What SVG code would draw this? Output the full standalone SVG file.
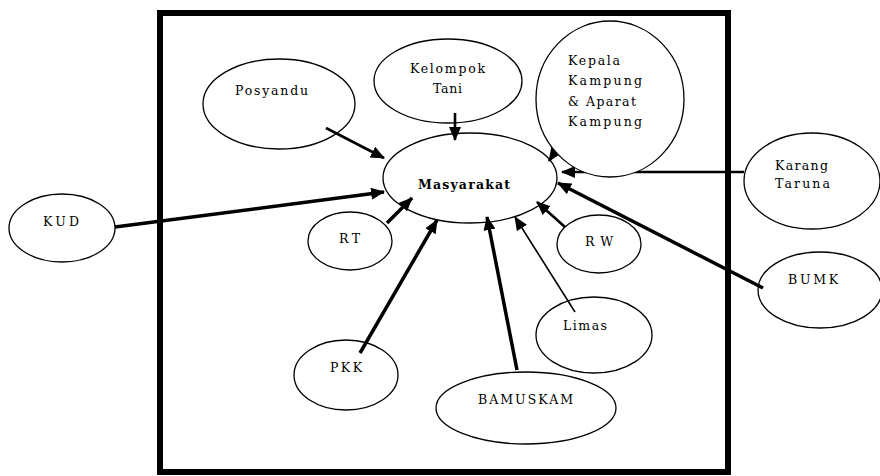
<svg xmlns="http://www.w3.org/2000/svg" width="880" height="476" viewBox="0 0 880 476">
<style>
.n{fill:none;stroke:#000;stroke-width:1.3}
.t{font-family:"DejaVu Serif","Liberation Serif",serif;font-size:12.5px;fill:#000}
.b{font-weight:bold}
.c{fill:none;stroke:#000;stroke-width:3.5}
.thin{stroke-width:1.6}
.mid{stroke-width:2.6}
</style>
<defs>
<marker id="ah" markerUnits="userSpaceOnUse" markerWidth="14" markerHeight="12" refX="13" refY="6" orient="auto">
<path d="M0,0 L14,6 L0,12 Z" fill="#000"/>
</marker>
</defs>
<rect x="160" y="13" width="568" height="459" fill="none" stroke="#000" stroke-width="6"/>
<g id="connectors">
<line class="c mid" x1="326" y1="128" x2="384" y2="158" marker-end="url(#ah)"/>
<line class="c mid" x1="455" y1="113" x2="455" y2="140" marker-end="url(#ah)"/>
<line class="c" x1="115" y1="227" x2="384" y2="192" marker-end="url(#ah)"/>
<line class="c" x1="387" y1="223" x2="412" y2="198" marker-end="url(#ah)"/>
<line class="c" x1="360" y1="353" x2="437" y2="220" marker-end="url(#ah)"/>
<line class="c" x1="517" y1="370" x2="487" y2="217" marker-end="url(#ah)"/>
<line class="c thin" x1="575" y1="312" x2="515" y2="217" marker-end="url(#ah)"/>
<line class="c mid" x1="565" y1="227" x2="537" y2="202" marker-end="url(#ah)"/>
<line class="c" x1="763" y1="288" x2="558" y2="183" marker-end="url(#ah)"/>
<line class="c mid" x1="744" y1="172" x2="562" y2="172" marker-end="url(#ah)"/>
<line class="c mid" x1="562" y1="142" x2="549" y2="161" marker-end="url(#ah)"/>
</g>
<g id="masyarakat">
<ellipse class="n" cx="470" cy="178" rx="87" ry="45"/>
<text class="t b" x="418" y="189" textLength="92" lengthAdjust="spacing">Masyarakat</text>
</g>
<g id="posyandu">
<ellipse class="n" cx="279" cy="104" rx="76" ry="45"/>
<text class="t" x="235" y="95" textLength="73" lengthAdjust="spacing">Posyandu</text>
</g>
<g id="kelompok-tani">
<ellipse class="n" cx="448" cy="81" rx="74" ry="42"/>
<text class="t" x="410" y="73" textLength="75" lengthAdjust="spacing">Kelompok</text>
<text class="t" x="433" y="93" textLength="29" lengthAdjust="spacing">Tani</text>
</g>
<g id="kepala-kampung">
<ellipse class="n" cx="610" cy="99" rx="74" ry="78" style="fill:#fff"/>
<text class="t" x="568" y="65" textLength="52" lengthAdjust="spacing">Kepala</text>
<text class="t" x="568" y="85" textLength="74" lengthAdjust="spacing">Kampung</text>
<text class="t" x="568" y="106" textLength="68" lengthAdjust="spacing">&amp; Aparat</text>
<text class="t" x="568" y="126" textLength="74" lengthAdjust="spacing">Kampung</text>
</g>
<g id="karang-taruna">
<ellipse class="n" cx="812" cy="181" rx="68" ry="48"/>
<text class="t" x="775" y="170" textLength="53" lengthAdjust="spacing">Karang</text>
<text class="t" x="775" y="188" textLength="55" lengthAdjust="spacing">Taruna</text>
</g>
<g id="kud">
<ellipse class="n" cx="62" cy="228" rx="53" ry="34"/>
<text class="t" x="43" y="226" textLength="36" lengthAdjust="spacing">KUD</text>
</g>
<g id="rt">
<ellipse class="n" cx="350" cy="241" rx="42" ry="29"/>
<text class="t" x="339" y="243" textLength="21" lengthAdjust="spacing">RT</text>
</g>
<g id="pkk">
<ellipse class="n" cx="346" cy="375" rx="52" ry="35"/>
<text class="t" x="330" y="372" textLength="32" lengthAdjust="spacing">PKK</text>
</g>
<g id="rw">
<ellipse class="n" cx="599" cy="244" rx="42" ry="29"/>
<text class="t" x="585" y="246" textLength="28" lengthAdjust="spacing">RW</text>
</g>
<g id="limas">
<ellipse class="n" cx="594" cy="335" rx="58" ry="38"/>
<text class="t" x="563" y="330" textLength="44" lengthAdjust="spacing">Limas</text>
</g>
<g id="bamuskam">
<ellipse class="n" cx="526" cy="408" rx="90" ry="36"/>
<text class="t" x="478" y="404" textLength="95" lengthAdjust="spacing">BAMUSKAM</text>
</g>
<g id="bumk">
<ellipse class="n" cx="820" cy="290" rx="62" ry="38"/>
<text class="t" x="788" y="284" textLength="50" lengthAdjust="spacing">BUMK</text>
</g>
</svg>
